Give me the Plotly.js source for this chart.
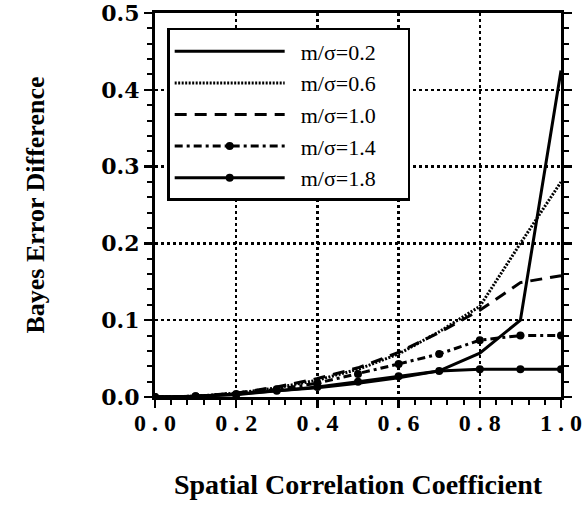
<!DOCTYPE html>
<html>
<head>
<meta charset="utf-8">
<script src="https://cdn.plot.ly/plotly-3.0.1.min.js"></script>
<style>
  html, body { margin: 0; padding: 0; background: #fff; }
  #chart { width: 582px; height: 505px; }
</style>
</head>
<body>
<div id="chart"></div>
<script>
// Spatial correlation coefficient values
const rho = [0.0, 0.1, 0.2, 0.3, 0.4, 0.5, 0.6, 0.7, 0.8, 0.9, 1.0];

// Bayes error difference per m/sigma
const ms02 = [0, 0.001, 0.004, 0.008, 0.012, 0.018, 0.025, 0.034, 0.057, 0.100, 0.425];
const ms06 = [0, 0.001, 0.005, 0.012, 0.022, 0.036, 0.056, 0.085, 0.118, 0.200, 0.280];
const ms10 = [0, 0.001, 0.005, 0.013, 0.024, 0.038, 0.058, 0.084, 0.113, 0.149, 0.158];
const ms14 = [0, 0.001, 0.004, 0.010, 0.018, 0.030, 0.043, 0.056, 0.074, 0.080, 0.080];
const ms18 = [0, 0.001, 0.003, 0.008, 0.013, 0.020, 0.027, 0.034, 0.036, 0.036, 0.036];

const seriesNames = ['m/σ=0.2', 'm/σ=0.6', 'm/σ=1.0', 'm/σ=1.4', 'm/σ=1.8'];

const xTickVals = [0.0, 0.2, 0.4, 0.6, 0.8, 1.0];
const xTickText = ['0 . 0', '0 . 2', '0 . 4', '0 . 6', '0 . 8', '1 . 0'];
const yTickVals = [0.0, 0.1, 0.2, 0.3, 0.4, 0.5];
const yTickText = ['0.0', '0.1', '0.2', '0.3', '0.4', '0.5'];

const serif = 'Liberation Serif, Times New Roman, serif';
const padL = '\u2002';
const padR = '\u2003\u2009';

const traces = [
  { x: rho, y: ms02, name: padL + seriesNames[0] + padR, mode: 'lines',
    line: { color: '#000', width: 3, dash: 'solid' } },
  { x: rho, y: ms06, name: padL + seriesNames[1] + padR, mode: 'lines',
    line: { color: '#000', width: 3, dash: '2px,1.5px' } },
  { x: rho, y: ms10, name: padL + seriesNames[2] + padR, mode: 'lines',
    line: { color: '#000', width: 3, dash: '12px,8px' } },
  { x: rho, y: ms14, name: padL + seriesNames[3] + padR, mode: 'lines+markers',
    line: { color: '#000', width: 3, dash: '8px,4px,3px,4px' },
    marker: { color: '#000', size: 8, symbol: 'circle' } },
  { x: rho, y: ms18, name: padL + seriesNames[4] + padR, mode: 'lines+markers',
    line: { color: '#000', width: 3, dash: 'solid' },
    marker: { color: '#000', size: 8, symbol: 'circle' } }
];

const layout = {
  width: 582, height: 505,
  margin: { l: 155, r: 21, t: 13, b: 108 },
  paper_bgcolor: '#fff', plot_bgcolor: '#fff',
  showlegend: true,
  legend: {
    x: 0.03, y: 0.961, xanchor: 'left', yanchor: 'top',
    bgcolor: '#fff', bordercolor: '#000', borderwidth: 2.5,
    font: { family: serif, size: 22, color: '#000' },
    itemwidth: 110, tracegroupgap: 0
  },
  xaxis: {
    range: [0, 1], fixedrange: true,
    tickvals: xTickVals, ticktext: xTickText,
    tickfont: { family: serif, size: 24, color: '#000', weight: 'bold' },
    ticks: 'outside', ticklen: 8, tickwidth: 2.5, tickcolor: '#000',
    ticklabelstandoff: -6, ticklabeloverflow: 'allow',
    minor: { tickmode: 'linear', tick0: 0, dtick: 0.04, ticks: 'outside', ticklen: 5, tickwidth: 2, tickcolor: '#000', showgrid: false },
    showline: true, linecolor: '#000', linewidth: 3, mirror: true,
    showgrid: true, gridcolor: '#000', gridwidth: 2.5, griddash: 'dot',
    zeroline: false,
    title: { text: 'Spatial Correlation Coefficient', standoff: 40,
             font: { family: serif, size: 28, color: '#000', weight: 'bold' } }
  },
  yaxis: {
    range: [0, 0.5], fixedrange: true,
    tickvals: yTickVals, ticktext: yTickText,
    tickfont: { family: 'DejaVu Serif, serif', size: 22, color: '#000', weight: 'bold' },
    ticks: 'outside', ticklen: 8, tickwidth: 2.5, tickcolor: '#000',
    ticklabeloverflow: 'allow',
    minor: { tickmode: 'linear', tick0: 0, dtick: 0.02, ticks: 'outside', ticklen: 5, tickwidth: 2, tickcolor: '#000', showgrid: false },
    showline: true, linecolor: '#000', linewidth: 3, mirror: 'allticks',
    showgrid: true, gridcolor: '#000', gridwidth: 2.5, griddash: 'dot',
    zeroline: false,
    title: { text: 'Bayes Error Difference', standoff: 50,
             font: { family: serif, size: 26, color: '#000', weight: 'bold' } }
  }
};

Plotly.newPlot('chart', traces, layout, { displayModeBar: false, staticPlot: true });
</script>
</body>
</html>
